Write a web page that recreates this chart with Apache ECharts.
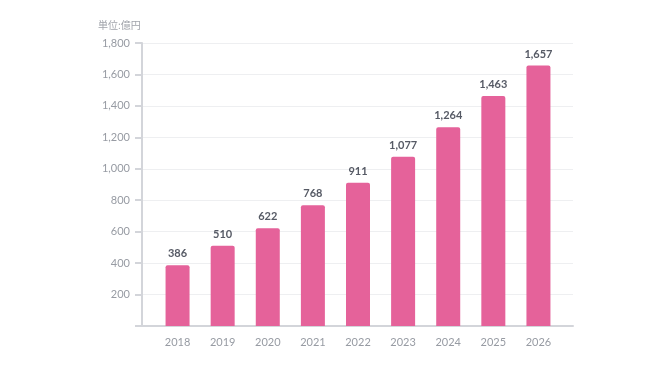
<!DOCTYPE html>
<html>
<head>
<meta charset="utf-8">
<script src="https://cdn.jsdelivr.net/npm/echarts@6/dist/echarts.min.js"></script>
<style>
  html, body { margin: 0; padding: 0; background: #fff; }
  #chart { width: 668px; height: 376px; }
</style>
</head>
<body>
<div id="chart"></div>
<script>
const years = ["2018", "2019", "2020", "2021", "2022", "2023", "2024", "2025", "2026"];
const sales = [386, 510, 622, 768, 911, 1077, 1264, 1463, 1657];
const unitLabel = "単位:億円";
const yMax = 1800;
const yStep = 200;

const myChart = echarts.init(document.getElementById("chart"));

const option = {
    textStyle: {
        fontFamily: "Lato, 'Noto Sans CJK JP', sans-serif"
    },
    animation: false,
    grid: [
        // frame grid: gridlines and axis lines
        { left: 142, right: 95, top: 43, bottom: 50 },
        // bar grid: narrower so bars sit inside the frame
        { left: 155, right: 107, top: 43, bottom: 50 }
    ],
    graphic: [{
        type: "text",
        left: 98,
        top: 20,
        style: {
            text: unitLabel,
            fill: "#a0a3aa",
            font: "10px 'Noto Sans CJK JP', sans-serif"
        }
    }],
    xAxis: [{
        gridIndex: 0,
        type: "value",
        min: 0,
        max: 1,
        axisLine: { show: true, lineStyle: { color: "#d3d5da", width: 2 } },
        axisTick: { show: false },
        axisLabel: { show: false },
        splitLine: { show: false }
    }, {
        gridIndex: 1,
        type: "category",
        data: years,
        axisLine: { show: false },
        axisTick: { show: false },
        axisLabel: {
            color: "#979ba3",
            fontSize: 11,
            margin: 11
        }
    }],
    yAxis: [{
        gridIndex: 0,
        type: "value",
        min: 0,
        max: yMax,
        interval: yStep,
        axisLine: { show: true, lineStyle: { color: "#d3d5da", width: 2 } },
        axisTick: { show: true, length: 7, lineStyle: { color: "#d3d5da", width: 2 } },
        axisLabel: {
            color: "#979ba3",
            fontSize: 11,
            margin: 12,
            formatter: v => v === 0 ? "" : v.toLocaleString("en-US")
        },
        splitLine: { show: true, lineStyle: { color: "#eeeff1", width: 1 } }
    }, {
        gridIndex: 1,
        type: "value",
        min: 0,
        max: yMax,
        interval: yStep,
        show: false,
        splitLine: { show: false }
    }],
    series: [{
        type: "bar",
        xAxisIndex: 1,
        yAxisIndex: 1,
        data: sales,
        barWidth: 24,
        itemStyle: {
            color: "#e5629a",
            borderRadius: [2, 2, 0, 0]
        },
        label: {
            show: true,
            position: "top",
            distance: 6,
            color: "#565a65",
            fontSize: 11,
            fontWeight: "bold",
            formatter: p => p.value.toLocaleString("en-US")
        }
    }]
};

myChart.setOption(option);
</script>
</body>
</html>
